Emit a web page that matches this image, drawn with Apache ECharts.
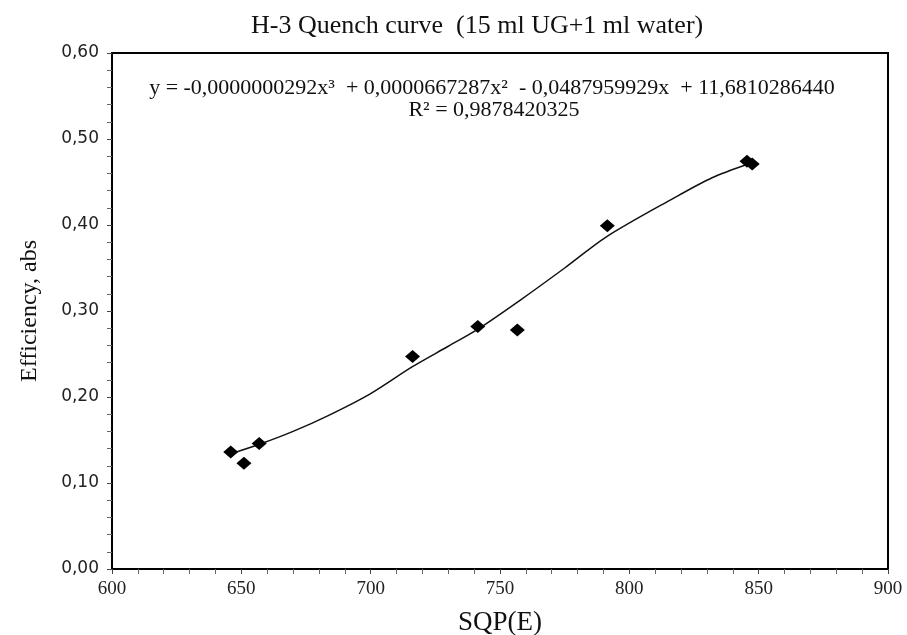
<!DOCTYPE html>
<html>
<head>
<meta charset="utf-8">
<script src="https://cdn.jsdelivr.net/npm/echarts@6/dist/echarts.min.js"></script>
<style>html,body{margin:0;padding:0;background:#fff}#c{width:907px;height:635px}</style>
</head>
<body>
<div id="c"></div>
<script>
const titleText = 'H-3 Quench curve  (15 ml UG+1 ml water)';
const xName = 'SQP(E)';
const yName = 'Efficiency, abs';
const eqLine1 = 'y = -0,0000000292x³  + 0,0000667287x²  - 0,0487959929x  + 11,6810286440';
const eqLine2 = 'R² = 0,9878420325';

// measured points (SQP(E), efficiency)
const sqpValues = [645.9, 651.0, 656.9, 716.2, 741.4, 756.7, 791.5, 845.5, 847.5];
const effValues = [0.136, 0.123, 0.146, 0.247, 0.282, 0.278, 0.399, 0.474, 0.471];

// trend curve
const trendX = [646, 657, 670, 684, 700, 716, 730, 741, 758, 775, 791, 817, 832, 846];
const trendY = [0.134, 0.145, 0.160, 0.179, 0.204, 0.235, 0.259, 0.278, 0.313, 0.350, 0.386, 0.431, 0.455, 0.471];

const xTicks = [600, 650, 700, 750, 800, 850, 900];
const yTicks = [0, 0.1, 0.2, 0.3, 0.4, 0.5, 0.6];

const serif = '"Liberation Serif", "Times New Roman", serif';
const sans = '"DejaVu Sans", Verdana, sans-serif';

const chart = echarts.init(document.getElementById('c'), null, {renderer: 'canvas'});
chart.setOption({
  backgroundColor: '#fff',
  animation: false,
  title: {
    text: titleText, left: 246, top: 8,
    textStyle: {fontFamily: serif, fontSize: 26, fontWeight: 'normal', color: '#111'}
  },
  grid: {left: 112, right: 19, top: 53, bottom: 66, outerBoundsMode: 'none', containLabel: false,
    show: true, borderColor: '#000', borderWidth: 2, backgroundColor: '#fff'},
  xAxis: {
    type: 'value', min: xTicks[0], max: xTicks[xTicks.length - 1], interval: 50,
    name: xName, nameLocation: 'middle', nameGap: 40,
    nameTextStyle: {fontFamily: serif, fontSize: 27, color: '#111'},
    axisLine: {show: true, lineStyle: {color: '#000', width: 2}},
    axisTick: {show: true, length: 5, inside: false, lineStyle: {color: '#444'}},
    minorTick: {show: true, splitNumber: 5, length: 5, lineStyle: {color: '#666'}},
    splitLine: {show: false},
    axisLabel: {fontFamily: serif, fontSize: 19, color: '#222', margin: 11}
  },
  yAxis: {
    type: 'value', min: yTicks[0], max: yTicks[yTicks.length - 1], interval: 0.1,
    name: yName, nameLocation: 'middle', nameGap: 70, nameRotate: 90,
    nameTextStyle: {fontFamily: serif, fontSize: 24, color: '#111'},
    axisLine: {show: true, lineStyle: {color: '#000', width: 2}},
    axisTick: {show: true, length: 5, lineStyle: {color: '#444'}},
    minorTick: {show: true, splitNumber: 5, length: 5, lineStyle: {color: '#666'}},
    splitLine: {show: false},
    axisLabel: {fontFamily: sans, fontSize: 17, color: '#222', margin: 13,
      formatter: v => v.toFixed(2).replace('.', ',')}
  },
  graphic: [
    {type: 'text', x: 492, y: 88, style: {text: eqLine1, font: '22px ' + serif, fill: '#111', textAlign: 'center', textVerticalAlign: 'middle'}},
    {type: 'text', x: 494, y: 110, style: {text: eqLine2, font: '22px ' + serif, fill: '#111', textAlign: 'center', textVerticalAlign: 'middle'}}
  ],
  series: [
    {
      type: 'line', data: trendX.map((x, i) => [x, trendY[i]]),
      smooth: 0.3, showSymbol: false, symbol: 'none',
      lineStyle: {color: '#111', width: 1.5}, z: 2
    },
    {
      type: 'scatter', data: sqpValues.map((x, i) => [x, effValues[i]]),
      symbol: 'diamond', symbolSize: [15, 13],
      itemStyle: {color: '#000', opacity: 1}, z: 3
    }
  ]
});
</script>
</body>
</html>
